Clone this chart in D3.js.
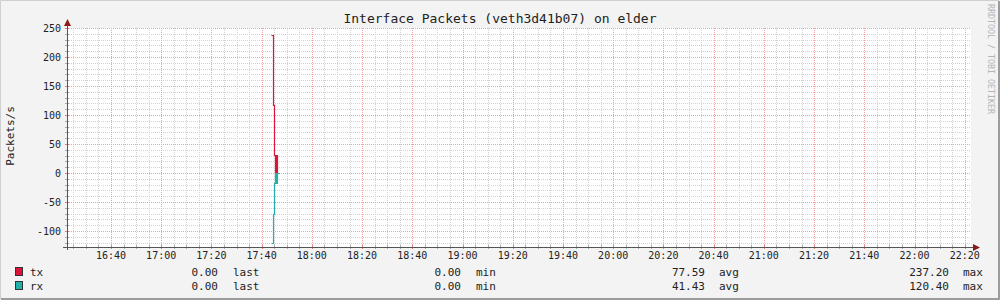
<!DOCTYPE html>
<html>
<head>
<meta charset="utf-8">
<script src="https://cdn.jsdelivr.net/npm/d3@7"></script>
<style>
  body { margin: 0; background: #f3f3f3; }
  text { font-family: "DejaVu Sans Mono", monospace; }
</style>
</head>
<body>
<div id="chart"></div>
<script>
// series samples (time of day, packets/s); rx is drawn below zero
const txTimes = ['17:43:44', '17:44:32', '17:44:56', '17:45:08', '17:45:20', '17:45:32', '17:45:44', '17:45:56', '17:46:08', '17:46:56'];
const txValues = [237.2, 118, 31, 0, 31, 0, 31, 0, 0, 0];
const rxTimes = ['17:43:44', '17:44:32', '17:44:56', '17:45:08', '17:45:20', '17:45:32', '17:45:44', '17:45:56', '17:46:08', '17:46:56'];
const rxValues = [-120.4, -70, -18, 0, -18, 0, -18, 0, 0, 0];

const yTicks = [-100, -50, 0, 50, 100, 150, 200, 250];
const xTickLabels = ['16:40', '17:00', '17:20', '17:40', '18:00', '18:20', '18:40', '19:00', '19:20', '19:40',
    '20:00', '20:20', '20:40', '21:00', '21:20', '21:40', '22:00', '22:20'];

const seriesNames = ['tx', 'rx'];
const seriesColors = ['#dc143c', '#20b2aa'];
const statLast = ['0.00', '0.00'];
const statMin = ['0.00', '0.00'];
const statAvg = ['77.59', '41.43'];
const statMax = ['237.20', '120.40'];

const title = 'Interface Packets (veth3d41b07) on elder';

const width = 1000, height = 300;
const margin = {top: 28, right: 29, bottom: 53, left: 67};

const parseTime = d3.timeParse('%H:%M:%S');

const svg = d3.select('#chart').append('svg')
    .attr('width', width)
    .attr('height', height);

// frame
svg.append('rect').attr('x', 0).attr('y', 0).attr('width', width).attr('height', height).attr('fill', '#f3f3f3');
svg.append('path').attr('d', 'M0.5,299 V0.5 H999').attr('fill', 'none').attr('stroke', '#cfcfcf');
svg.append('path').attr('d', 'M1,299 H999 V1').attr('fill', 'none').attr('stroke', '#9c9c9c').attr('stroke-width', 2);

const x = d3.scaleTime()
    .domain([parseTime('16:22:30'), parseTime('22:22:30')])
    .range([margin.left, width - margin.right]);

const y = d3.scaleLinear()
    .domain([-127.5, 250])
    .range([height - margin.bottom, margin.top]);

const x0 = margin.left, x1 = width - margin.right;
const y0 = height - margin.bottom, y1 = margin.top;
const px = v => Math.round(v) + 0.5;

svg.append('rect')
    .attr('x', x0).attr('y', y1)
    .attr('width', x1 - x0).attr('height', y0 - y1)
    .attr('fill', '#ffffff');

// grid
const grid = svg.append('g');
const minorX = x.ticks(d3.timeMinute.every(5));
const majorX = x.ticks(d3.timeMinute.every(20));
const minorY = d3.range(-120, 251, 10);

grid.selectAll('.gx-minor')
    .data(minorX.filter(d => d.getMinutes() % 20 !== 0))
    .join('line')
    .attr('x1', d => px(x(d))).attr('x2', d => px(x(d)))
    .attr('y1', y0).attr('y2', y1)
    .attr('stroke', '#d2d2d2').attr('stroke-dasharray', '1,1');

grid.selectAll('.gy-minor')
    .data(minorY.filter(d => d % 50 !== 0))
    .join('line')
    .attr('x1', x0).attr('x2', x1)
    .attr('y1', d => px(y(d))).attr('y2', d => px(y(d)))
    .attr('stroke', '#d2d2d2').attr('stroke-dasharray', '1,1');

grid.selectAll('.gx-major')
    .data(majorX)
    .join('line')
    .attr('x1', d => px(x(d))).attr('x2', d => px(x(d)))
    .attr('y1', y0).attr('y2', y1)
    .attr('stroke', '#f2a0a0').attr('stroke-dasharray', '1,1');

grid.selectAll('.gy-major')
    .data(yTicks)
    .join('line')
    .attr('x1', x0).attr('x2', x1)
    .attr('y1', d => px(y(d))).attr('y2', d => px(y(d)))
    .attr('stroke', '#f2a0a0').attr('stroke-dasharray', '1,1');

// small tick marks on the axes
grid.selectAll('.tx')
    .data(minorX)
    .join('line')
    .attr('x1', d => px(x(d))).attr('x2', d => px(x(d)))
    .attr('y1', y0 - 2).attr('y2', y0 + 2)
    .attr('stroke', d => d.getMinutes() % 20 === 0 ? '#e08080' : '#aaaaaa');

grid.selectAll('.ty')
    .data(minorY)
    .join('line')
    .attr('x1', x0 - 2).attr('x2', x0 + 2)
    .attr('y1', d => px(y(d))).attr('y2', d => px(y(d)))
    .attr('stroke', d => d % 50 === 0 ? '#e08080' : '#aaaaaa');

// data lines, snapped to pixel centres like the rrd renderer
const line = d3.line()
    .x(d => px(x(d.t)))
    .y(d => px(y(d.v)))
    .curve(d3.curveStepAfter);

const series = [
    txTimes.map((t, i) => ({t: parseTime(t), v: txValues[i]})),
    rxTimes.map((t, i) => ({t: parseTime(t), v: rxValues[i]}))
];

svg.selectAll('.series')
    .data(series)
    .join('path')
    .attr('class', 'series')
    .attr('d', line)
    .attr('fill', 'none')
    .attr('stroke', (d, i) => seriesColors[i])
    .attr('stroke-width', 1.2);

// axes lines and arrows
svg.append('line')
    .attr('x1', x0 + 0.5).attr('x2', x0 + 0.5)
    .attr('y1', y0 + 3).attr('y2', y1 - 4)
    .attr('stroke', '#555555');
svg.append('line')
    .attr('x1', x0 - 4).attr('x2', x1 + 2)
    .attr('y1', y0 + 0.5).attr('y2', y0 + 0.5)
    .attr('stroke', '#555555');
svg.append('path')
    .attr('d', `M${x0 - 3},${y1 - 2} L${x0 + 4},${y1 - 2} L${x0 + 0.5},${y1 - 9} Z`)
    .attr('fill', '#8b1a1a');
svg.append('path')
    .attr('d', `M${x1 + 2},${y0 - 3} L${x1 + 2},${y0 + 4} L${x1 + 9},${y0 + 0.5} Z`)
    .attr('fill', '#8b1a1a');

// tick labels
svg.selectAll('.ylab')
    .data(yTicks)
    .join('text')
    .attr('x', 61)
    .attr('y', d => y(d) + 4)
    .attr('text-anchor', 'end')
    .attr('font-size', 10)
    .attr('fill', '#222')
    .text(d => d);

svg.selectAll('.xlab')
    .data(xTickLabels)
    .join('text')
    .attr('x', d => x(parseTime(d + ':00')))
    .attr('y', 259)
    .attr('text-anchor', 'middle')
    .attr('font-size', 10)
    .attr('fill', '#222')
    .text(d => d);

// title
svg.append('text')
    .attr('x', 500).attr('y', 23)
    .attr('text-anchor', 'middle')
    .attr('font-size', 13)
    .attr('fill', '#222')
    .text(title);

// y-axis label
svg.append('text')
    .attr('transform', 'translate(14,136) rotate(-90)')
    .attr('text-anchor', 'middle')
    .attr('font-size', 11)
    .attr('fill', '#222')
    .text('Packets/s');

// watermark
svg.append('text')
    .attr('transform', 'translate(988,4) rotate(90)')
    .attr('font-size', 8.3)
    .attr('fill', '#b5b5b5')
    .text('RRDTOOL / TOBI OETIKER');

// legend
const legend = svg.selectAll('.legend')
    .data(seriesNames)
    .join('g')
    .attr('class', 'legend')
    .attr('transform', (d, i) => `translate(0,${276 + i * 14})`);

legend.append('rect')
    .attr('x', 15.5).attr('y', -8.5)
    .attr('width', 7).attr('height', 8)
    .attr('fill', (d, i) => seriesColors[i])
    .attr('stroke', '#333');

const legendText = (sel, xPos, anchor, fn) => sel.append('text')
    .attr('x', xPos).attr('y', 0)
    .attr('text-anchor', anchor)
    .attr('font-size', 11)
    .attr('fill', '#222')
    .text(fn);

legendText(legend, 30, 'start', d => d);
legendText(legend, 218, 'end', (d, i) => statLast[i]);
legendText(legend, 233, 'start', () => 'last');
legendText(legend, 461, 'end', (d, i) => statMin[i]);
legendText(legend, 476, 'start', () => 'min');
legendText(legend, 705, 'end', (d, i) => statAvg[i]);
legendText(legend, 719, 'start', () => 'avg');
legendText(legend, 949, 'end', (d, i) => statMax[i]);
legendText(legend, 963, 'start', () => 'max');
</script>
</body>
</html>
